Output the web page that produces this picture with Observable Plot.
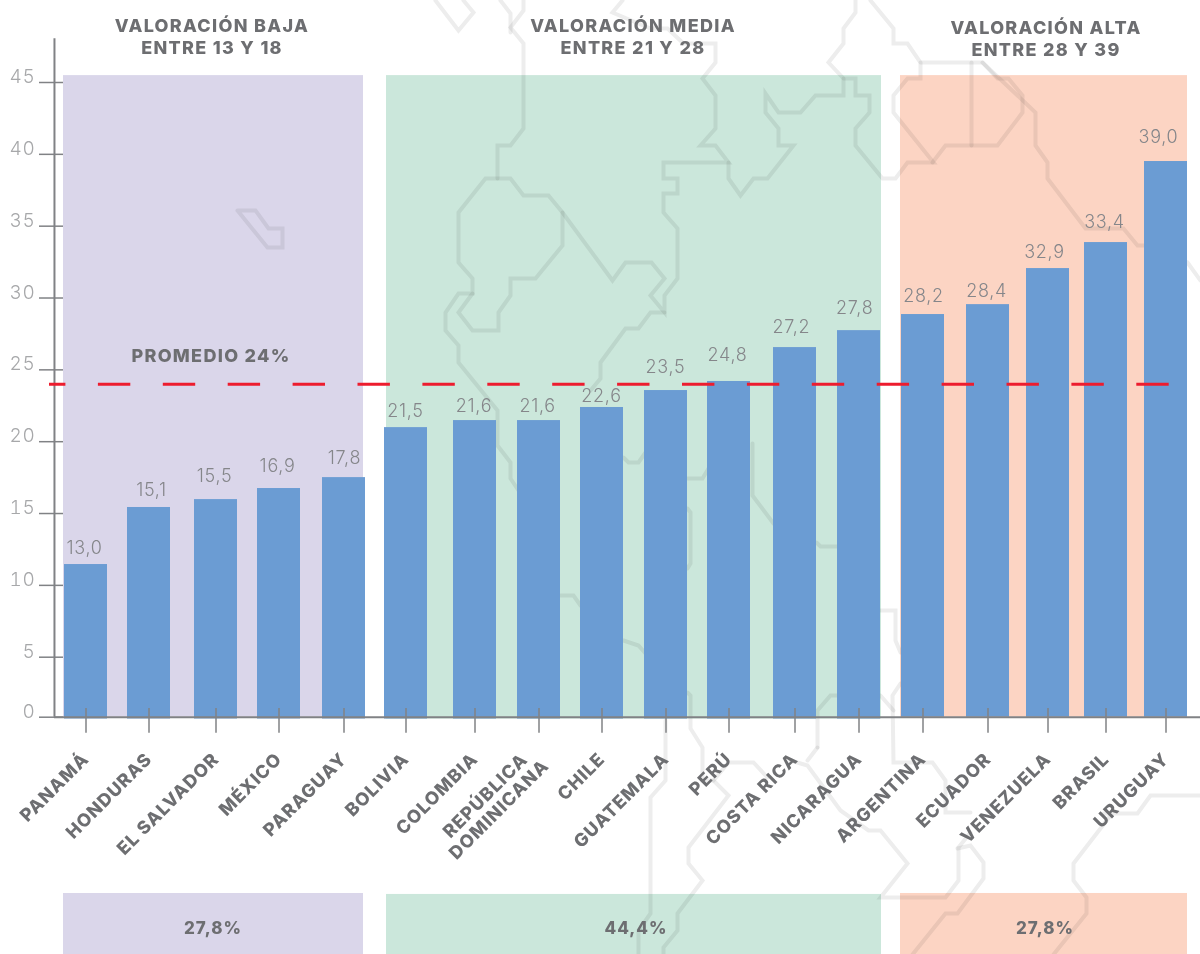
<!DOCTYPE html>
<html lang="es">
<head>
<meta charset="utf-8">
<script src="https://cdn.jsdelivr.net/npm/d3@7"></script>
<script src="https://cdn.jsdelivr.net/npm/@observablehq/plot@0.6"></script>
<style>
  html, body { margin: 0; padding: 0; background: #fff; }
  svg { display: block; }
  g[font-weight="700"] text { letter-spacing: 1.3px; font-weight: 800; }
  g[font-weight="600"] text { letter-spacing: 1px; font-weight: 800; }
  g[font-weight="300"] text { letter-spacing: 0.7px; }
</style>
</head>
<body>
<div id="chart"></div>
<script>
const countries = ["PANAMÁ","HONDURAS","EL SALVADOR","MÉXICO","PARAGUAY","BOLIVIA","COLOMBIA","REPÚBLICA\nDOMINICANA","CHILE","GUATEMALA","PERÚ","COSTA RICA","NICARAGUA","ARGENTINA","ECUADOR","VENEZUELA","BRASIL","URUGUAY"];
// Printed value of each bar
const valueLabels = ["13,0","15,1","15,5","16,9","17,8","21,5","21,6","21,6","22,6","23,5","24,8","27,2","27,8","28,2","28,4","32,9","33,4","39,0"];
const barHeights = [11.45,15.42,15.97,16.74,17.5,20.98,21.47,21.47,22.38,23.56,24.19,26.55,27.73,28.85,29.54,32.05,33.86,39.5];
// Level on the y axis at which each printed value sits
const labelLevels = [12.56,16.6,17.6,18.27,18.83,22.1,22.5,22.5,23.14,25.16,26.0,27.94,29.3,30.1,30.5,33.2,35.25,41.17];
// Slight drift of each printed value from its bar, in slots
const labelDrift = [-.02,.035,-.02,-.02,.007,-.007,-.014,-.02,-.007,-.007,-.02,-.05,-.06,.007,-.02,-.05,-.02,-.105];
const yTicks = [0,5,10,15,20,25,30,35,40,45];
const average = 24;
const averageLabel = "PROMEDIO 24%";
const groupTitles = ["VALORACIÓN BAJA\nENTRE 13 Y 18","VALORACIÓN MEDIA\nENTRE 21 Y 28","VALORACIÓN ALTA\nENTRE 28 Y 39"];
const groupShares = ["27,8%","44,4%","27,8%"];
const groupFirst = [0,5,13];
const groupLast = [4,12,17];
const groupColors = ["#dad6ea","#cbe7db","#fcd4c3"];
// Decorative watermark map behind the chart, in picture units
const mapOutline = [
  [[500,0],[510,13],[510,32]],
  [[523,0],[523,10],[510,27],[523,43],[523,128],[510,145],[497,145],[497,178]],
  [[435,0],[458,30],[473,12],[463,0]],
  [[622,0],[612,12],[650,28],[667,28],[683,43],[715,43],[715,62],[702,78],[715,95],[715,128],[700,145],[715,145],[728,162],[663,162],[663,178],[677,178],[677,193],[663,193],[663,212],[677,228],[677,278],[664,295],[664,312],[650,295],[664,278],[651,262],[625,262],[612,280],[562,212],[548,195],[523,195],[510,178],[485,178],[458,212],[458,262],[472,278],[472,293],[458,293],[445,312],[445,330],[458,345],[458,362],[497,410],[497,445],[510,462],[510,478],[518,490]],
  [[472,293],[458,312],[472,330],[498,330],[498,312],[510,295],[510,278],[535,278],[562,245],[562,212]],
  [[664,312],[650,312],[638,328],[625,328],[600,362],[600,378],[590,390]],
  [[728,162],[728,178],[740,195],[753,178],[767,178],[793,145],[778,145],[778,128],[765,112],[765,93],[778,112],[800,112],[815,95],[843,95],[843,78],[828,62],[843,43],[843,28],[855,12],[855,0]],
  [[843,78],[855,78],[855,95],[869,95],[869,112],[855,128],[855,145],[882,178],[895,178],[907,162],[933,162],[893,112],[893,95],[907,78],[920,78],[920,62],[907,43],[893,43],[893,28],[870,0]],
  [[920,62],[982,62],[997,78],[1008,78],[1022,95],[1022,112],[997,145],[945,145],[932,162]],
  [[971,62],[971,145]],
  [[982,62],[1035,112],[1035,145],[1047,162],[1047,178],[1085,228],[1123,228],[1137,245],[1145,245],[1187,262],[1200,280]],
  [[237,210],[255,210],[268,228],[282,228],[282,247],[267,247],[237,210]],
  [[623,457],[628,462],[638,462],[645,452]],
  [[687,478],[702,478],[708,468]],
  [[752,443],[752,495],[773,523]],
  [[687,508],[690,512],[690,563],[687,568]],
  [[560,595],[573,595],[580,605]],
  [[623,640],[638,645],[645,653]],
  [[816,542],[820,546],[837,546]],
  [[687,692],[690,695],[690,728],[702,747],[702,780],[713,780],[728,795],[688,847],[688,863],[702,880],[677,913],[677,930],[663,947],[663,954]],
  [[665,720],[665,780],[650,797],[650,913],[638,930],[638,954]],
  [[713,780],[728,762],[753,762],[767,777]],
  [[790,760],[807,765],[840,810],[868,830],[880,830],[907,863],[880,897],[945,897],[958,880],[958,847],[970,832]],
  [[957,848],[970,845],[983,862],[983,878],[957,913],[945,913],[912,954]],
  [[817,747],[817,710],[830,695],[837,695]],
  [[817,747],[807,760]],
  [[880,610],[895,610],[895,640],[900,652]],
  [[900,683],[892,695],[893,762],[932,762],[945,780],[945,812],[970,812]],
  [[880,695],[893,710]],
  [[1103,813],[1137,813],[1150,795],[1200,795]],
  [[1110,815],[1073,863],[1073,880],[1086,897],[1086,913],[1053,954]]
];

const rows = countries.map((country,i) => ({i,country,height:barHeights[i],label:valueLabels[i],level:labelLevels[i],drift:labelDrift[i]}));
const groups = groupTitles.map((title,g) => ({g,title,share:groupShares[g],first:groupFirst[g],last:groupLast[g],color:groupColors[g]}));
const mapPoints = mapOutline.flatMap((path,p) => path.map(([px,py]) => ({p,px,py})));

// The picture spaces its bars unevenly: the x scale is piecewise, one knot per bar edge
const half = 0.3;
const slotCentres = [85.5,148.5,215.5,278.5,343.5,405.5,474.5,538.5,601.5,665.5,728.5,794.5,858.5,922.5,987.5,1047.5,1105.5,1165.5];
const xDomain = rows.flatMap(d => [d.i-half,d.i+half]);
const xRange = slotCentres.flatMap(c => [c-21.5,c+21.5]);

const stripTop = -14.69, stripBottom = -19.78, axisX = -0.44, barFloor = -0.15;
const ink = "#6d6e71", faint = "#a7a8aa", soft = "#85868a", axisInk = "#808285";
const bold = {fontWeight:700,fill:ink,fontSize:18};

const panel = (g,insetLeft,insetRight,bottom) => Plot.rect([groups[g]],{
  x1:d=>d.first-half,x2:d=>d.last+half,y1:bottom,y2:45.48,fill:d=>d.color,insetLeft,insetRight});
const strip = (g,insetLeft,insetRight,top) => Plot.rect([groups[g]],{
  x1:d=>d.first-half,x2:d=>d.last+half,y1:top,y2:stripBottom,fill:d=>d.color,insetLeft,insetRight});
const centre = d => (d.first+d.last)/2;
const title = (g,dx,dy) => Plot.text([groups[g]],{x:centre,y:48.2,dx,dy,text:"title",...bold,lineHeight:1.22});
const share = (g,dx) => Plot.text([groups[g]],{x:centre,y:-17.6,dx,text:"share",...bold,fontSize:17,fontWeight:600});

const chart = Plot.plot({
  width:1200,height:954,
  marginLeft:63,marginRight:0,marginTop:0,marginBottom:237,
  style:{fontFamily:"Inter, 'Noto Sans', sans-serif",background:"transparent",overflow:"visible"},
  color:{type:"identity"},
  x:{type:"linear",domain:xDomain,range:xRange,axis:null},
  y:{type:"linear",domain:[0,5,45],range:[716.7,656.7,82],axis:null},
  marks:[
    panel(0,-1,2,0),panel(1,2,-1,barFloor),panel(2,-1,0,0),
    strip(0,-1,2,stripTop),strip(1,2,-1,stripTop-0.08),strip(2,-1,0,stripTop),
    Plot.line(mapPoints,{x:{value:"px",scale:null},y:{value:"py",scale:null},z:"p",stroke:"#ededed",mixBlendMode:"multiply",strokeWidth:4,strokeLinejoin:"miter",strokeMiterlimit:4}),
    Plot.rect(rows,{x1:d=>d.i-half,x2:d=>d.i+half,y1:d=>d.i<13?barFloor:0,y2:"height",fill:"#6b9cd3"}),
    // y axis
    Plot.ruleX([axisX],{y1:0,y2:48.05,stroke:axisInk,strokeWidth:2}),
    Plot.axisY(yTicks,{anchor:"left",tickSize:24,stroke:axisInk,strokeWidth:1.5,strokeOpacity:1,tickFormat:()=>"",label:null}),
    Plot.axisY(yTicks,{anchor:"left",tickSize:0,tickPadding:28,dy:-5.5,fontSize:19,fontWeight:300,fill:faint,textStroke:"none",label:null}),
    // x axis
    Plot.ruleY([0],{insetLeft:-9,stroke:axisInk,strokeWidth:2}),
    Plot.ruleX(rows,{x:"i",y1:0.72,y2:-1.33,stroke:axisInk,strokeWidth:1.5}),
    Plot.text(rows.filter(d=>!d.country.includes("\n")),{x:"i",y:-2.75,text:"country",rotate:-45,textAnchor:"end",lineAnchor:"middle",dx:0,dy:6,fontSize:18,fontWeight:600,fill:ink}),
    Plot.text(rows.filter(d=>d.country.includes("\n")),{x:"i",y:-7.1,text:"country",rotate:-45,textAnchor:"middle",lineAnchor:"middle",dx:-47,lineHeight:1.08,fontSize:18,fontWeight:600,fill:ink}),
    // average
    Plot.ruleY([average],{insetLeft:-14,stroke:"#ed1c2e",strokeWidth:3,strokeDasharray:"32.4,32.5",strokeDashoffset:16}),
    Plot.text([averageLabel],{x:2,y:25.95,text:d=>d,dx:-5,...bold}),
    // printed values
    Plot.text(rows,{x:d=>d.i+d.drift,y:"level",text:"label",fontSize:18,fontWeight:300,fill:soft}),
    // group titles and shares
    title(0,-4,-1),title(1,-1,-1),title(2,-2,1),
    share(0,-3),share(1,2),share(2,-3)
  ]
});
document.getElementById("chart").appendChild(chart);
</script>
</body>
</html>
